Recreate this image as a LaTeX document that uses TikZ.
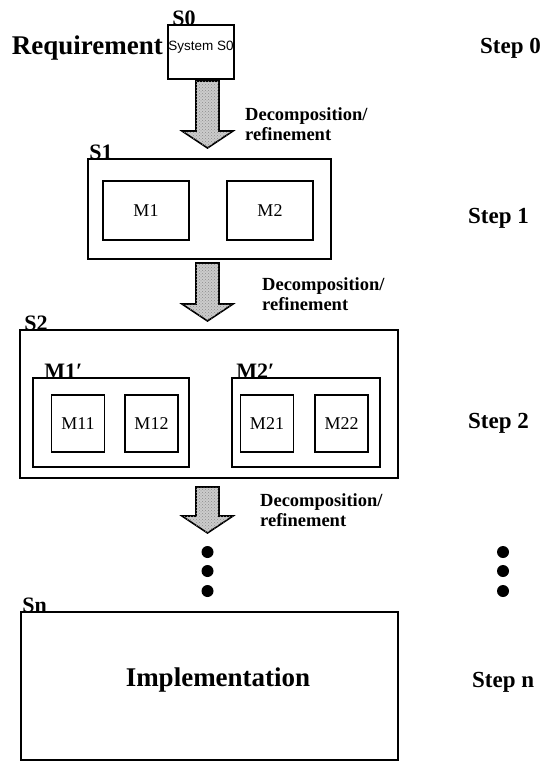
\documentclass[tikz,border=0pt]{standalone}
\usepackage{fontspec}
\setmainfont{Liberation Serif}
\newfontfamily\sysfont{Liberation Sans}
\usepackage{tikz}
\usetikzlibrary{positioning}
\usetikzlibrary{patterns}
\tikzset{
  box/.style={draw, line width=1.6pt, inner sep=0pt},
  blockarrow/.style={draw, line width=1.6pt, fill=gray!40, line join=miter,
    postaction={pattern=crosshatch dots, pattern color=gray!90}},
  biglabel/.style={font=\fontsize{27}{29}\selectfont\bfseries, inner sep=0pt},
  steplabel/.style={font=\fontsize{23}{26}\selectfont\bfseries, inner sep=0pt, anchor=west},
  cornerlabel/.style={font=\fontsize{22}{24}\selectfont\bfseries, inner sep=0pt},
  declabel/.style={font=\fontsize{18.5}{20}\selectfont\bfseries, align=left,
    anchor=north west, inner sep=0pt},
  modlabel/.style={font=\fontsize{18}{20}\selectfont, inner sep=0pt},
}

\begin{document}
\begin{tikzpicture}[x=1pt,y=-1pt]
  \useasboundingbox (0,0) rectangle (549,761);
  % step 0: the requirement
  \node[box, minimum width=66, minimum height=54] (s0) at (201,52) {};
  \node[font=\sysfont\fontsize{13.5}{15}\selectfont, inner sep=0pt] (s0txt) at (201,47) {System S0};
  \node[cornerlabel, above right=-1.5pt and 5pt of s0.north west] (s0lbl) {S0};
  \node[biglabel, anchor=east] (req) at (163,48) {Requirement};
  \node[steplabel] (st0) at (480,48) {Step 0};
  % step 1
  \node[box, minimum width=243, minimum height=100] (s1) at (209.5,209) {};
  \node[cornerlabel, above right=-1.5pt and 2pt of s1.north west] (s1lbl) {S1};
  \node[box, minimum width=86, minimum height=59] (m1) at (146,210.5) {};
  \node[box, minimum width=86, minimum height=59] (m2) at (270,210.5) {};
  \node[modlabel] at (m1) {M1};
  \node[modlabel] at (m2) {M2};
  \node[steplabel] (st1) at (468,218) {Step 1};
  % step 2
  \node[box, minimum width=378, minimum height=148] (s2) at (209,404) {};
  \node[cornerlabel, above right=-1.5pt and 5pt of s2.north west] (s2lbl) {S2};
  \node[box, minimum width=156, minimum height=89] (m1p) at (111,422.5) {};
  \node[box, minimum width=148, minimum height=89] (m2p) at (306,422.5) {};
  \node[cornerlabel, above right=-1pt and 12pt of m1p.north west] (m1plbl) {M1′};
  \node[cornerlabel, above right=-1pt and 5pt of m2p.north west] (m2plbl) {M2′};
  \foreach \nm/\cx in {M11/78, M12/151.5, M21/267, M22/341.5} {
    \node[box, minimum width=53, minimum height=57] (\nm) at (\cx,423.5) {};
    \node[modlabel] at (\nm) {\nm};
  }
  \node[steplabel] (st2) at (468,423) {Step 2};
  % decomposition arrows (top / tip)
  \foreach \yt/\yb in {81/148, 263/321, 487/533} {
    \draw[blockarrow] (196,\yt) -- (219,\yt) -- (219,\yb-17) -- (233,\yb-17)
      -- (207.5,\yb) -- (182,\yb-17) -- (196,\yb-17) -- cycle;
  }
  \node[declabel] (dec1) at (245,107) {Decomposition/\\refinement};
  \node[declabel] (dec2) at (262,277) {Decomposition/\\refinement};
  \node[declabel] (dec3) at (260,493) {Decomposition/\\refinement};
  % dots
  \foreach \yy in {552,571,591} {
    \fill (207.5,\yy) circle (6pt);
    \fill (503,\yy) circle (6pt);
  }
  % step n
  \node[box, minimum width=377, minimum height=148] (sn) at (209.5,686) {};
  \node[cornerlabel, above right=-1.5pt and 2pt of sn.north west] (snlbl) {Sn};
  \node[biglabel] (impl) at (218,680) {Implementation};
  \node[steplabel] (stn) at (472,682) {Step n};
\end{tikzpicture}
\end{document}
